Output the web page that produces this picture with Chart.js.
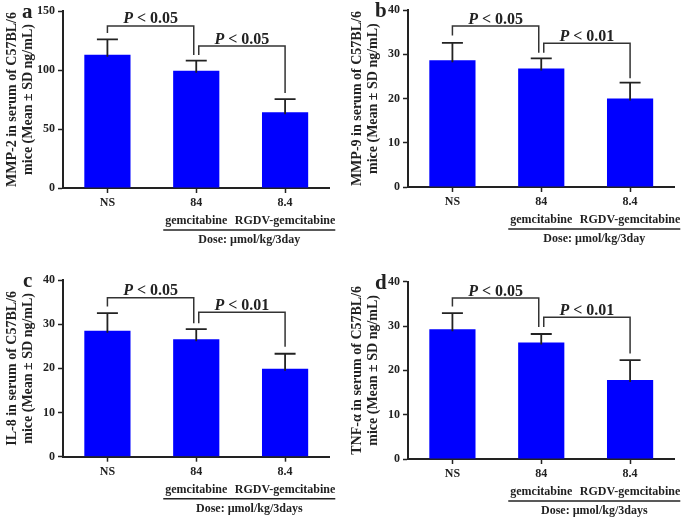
<!DOCTYPE html>
<html>
<head>
<meta charset="utf-8">
<script src="https://cdn.jsdelivr.net/npm/chart.js@4/dist/chart.umd.min.js"></script>
<style>
  html, body { margin: 0; padding: 0; background: #fff; }
  body { position: relative; width: 685px; height: 517px; overflow: hidden; }
  canvas { position: absolute; }
</style>
</head>
<body>
<canvas id="chartA" width="342" height="258" style="left:0;top:0"></canvas>
<canvas id="chartB" width="340" height="258" style="left:345px;top:0"></canvas>
<canvas id="chartC" width="342" height="259" style="left:0;top:258px"></canvas>
<canvas id="chartD" width="340" height="259" style="left:345px;top:258px"></canvas>
<script>
const categories = ['NS', '84', '8.4']
const subLabels = ['', 'gemcitabine', 'RGDV-gemcitabine']

const mmp2Mean = [113, 99.4, 64.2]
const mmp2Sd = [13, 8.5, 11.2]
const mmp9Mean = [28.7, 26.8, 20.0]
const mmp9Sd = [3.9, 2.3, 3.6]
const il8Mean = [28.5, 26.6, 19.9]
const il8Sd = [4.0, 2.3, 3.4]
const tnfMean = [29.3, 26.3, 17.8]
const tnfSd = [3.6, 1.9, 4.5]

// brackets: [from, to, top, left leg end, right leg end, p]
const mmp2Sig = [[0, 1, 137.3, 131.4, 112.7, '0.05'], [1, 2, 120.3, 112.7, 80.5, '0.05']]
const mmp9Sig = [[0, 1, 36.4, 34.3, 30.4, '0.05'], [1, 2, 32.5, 30.4, 24.6, '0.01']]
const il8Sig = [[0, 1, 36.0, 34.0, 30.2, '0.05'], [1, 2, 32.7, 30.2, 24.9, '0.01']]
const tnfSig = [[0, 1, 36.3, 34.4, 29.8, '0.05'], [1, 2, 32.0, 29.8, 23.8, '0.01']]

const FONT = "'Liberation Serif', 'Times New Roman', serif"
const INK = '#222'

const extras = {
  id: 'extras',
  afterDraw(chart, args, opts) {
    const ctx = chart.ctx
    const x = chart.scales.x
    const y = chart.scales.y
    const area = chart.chartArea
    ctx.save()

    // error bars, upper side only
    ctx.strokeStyle = INK
    ctx.lineWidth = 1.8
    opts.mean.forEach((m, i) => {
      const cx = x.getPixelForValue(i)
      const y0 = y.getPixelForValue(m)
      const y1 = y.getPixelForValue(m + opts.sd[i])
      ctx.beginPath()
      ctx.moveTo(cx, y0 + 2)
      ctx.lineTo(cx, y1)
      ctx.moveTo(cx - 10.5, y1)
      ctx.lineTo(cx + 10.5, y1)
      ctx.stroke()
    })

    // significance brackets
    ctx.strokeStyle = '#333'
    ctx.lineWidth = 1.5
    opts.sig.forEach((s, k) => {
      const xl = x.getPixelForValue(s[0]) + (k > 0 ? 2.5 : 0)
      const xr = x.getPixelForValue(s[1]) - (k < opts.sig.length - 1 ? 2.5 : 0)
      const yt = y.getPixelForValue(s[2])
      ctx.beginPath()
      ctx.moveTo(xl, y.getPixelForValue(s[3]))
      ctx.lineTo(xl, yt)
      ctx.lineTo(xr, yt)
      ctx.lineTo(xr, y.getPixelForValue(s[4]))
      ctx.stroke()

      const pFont = 'italic bold 16px ' + FONT
      const rFont = 'bold 16px ' + FONT
      const rest = ' < ' + s[5]
      ctx.font = pFont
      const wp = ctx.measureText('P').width
      ctx.font = rFont
      const wr = ctx.measureText(rest).width
      const start = (xl + xr) / 2 - (wp + wr) / 2
      ctx.fillStyle = INK
      ctx.textAlign = 'left'
      ctx.textBaseline = 'alphabetic'
      ctx.font = pFont
      ctx.fillText('P', start, yt - 2.5)
      ctx.font = rFont
      ctx.fillText(rest, start + wp, yt - 2.5)
    })

    // dose line and caption
    ctx.font = 'bold 12px ' + FONT
    const x1 = x.getPixelForValue(1)
    const x2 = x.getPixelForValue(2)
    const lineL = x1 - ctx.measureText(subLabels[1]).width / 2 - 2
    const lineR = x2 + ctx.measureText(subLabels[2]).width / 2
    const ly = area.bottom + 42
    ctx.strokeStyle = INK
    ctx.lineWidth = 1.5
    ctx.beginPath()
    ctx.moveTo(lineL, ly)
    ctx.lineTo(lineR, ly)
    ctx.stroke()
    ctx.fillStyle = INK
    ctx.textAlign = 'center'
    ctx.textBaseline = 'middle'
    ctx.fillText(opts.dose, (lineL + lineR) / 2, ly + 10)

    // panel letter
    ctx.font = 'bold 21px ' + FONT
    ctx.textAlign = 'left'
    ctx.textBaseline = 'alphabetic'
    ctx.fillText(opts.letter, area.left - opts.letterDx, area.top + 7)
    ctx.restore()
  }
}

const makePanel = (id, cfg) => new Chart(document.getElementById(id), {
  type: 'bar',
  data: {
    labels: categories.map((c, i) => [c, subLabels[i]]),
    datasets: [{
      data: cfg.mean,
      backgroundColor: '#0000ff',
      barPercentage: 0.52,
      categoryPercentage: 1,
    }],
  },
  options: {
    responsive: false,
    animation: false,
    events: [],
    layout: { padding: { top: cfg.top, right: cfg.right, left: 0, bottom: 0 } },
    plugins: {
      legend: { display: false },
      tooltip: { enabled: false },
      extras: {
        mean: cfg.mean,
        sd: cfg.sd,
        sig: cfg.sig,
        dose: cfg.dose,
        letter: cfg.letter,
        letterDx: cfg.letterDx,
      },
    },
    scales: {
      x: {
        grid: { display: true, drawOnChartArea: false, offset: false, color: INK, tickLength: 5, tickWidth: 1.5 },
        border: { color: INK, width: 2 },
        ticks: {
          color: INK,
          font: { family: FONT, weight: 'bold', size: 12, lineHeight: 1.5 },
          padding: 1,
          maxRotation: 0,
          autoSkip: false,
        },
        afterFit: (s) => { s.height = cfg.xHeight },
      },
      y: {
        min: 0,
        max: cfg.max,
        ticks: {
          stepSize: cfg.step,
          color: INK,
          font: { family: FONT, weight: 'bold', size: 12 },
          padding: 3,
        },
        grid: { drawOnChartArea: false, color: INK, tickLength: 5, tickWidth: 1.5 },
        border: { color: INK, width: 2 },
        title: {
          display: true,
          text: [cfg.title, 'mice (Mean ± SD ng/mL)'],
          align: 'center',
          color: INK,
          font: { family: FONT, weight: 'bold', size: 14, lineHeight: 1.15 },
          padding: { top: 4, bottom: 0 },
        },
        afterFit: (s) => { s.width = 63 },
      },
    },
  },
  plugins: [extras],
})

makePanel('chartA', {
  mean: mmp2Mean, sd: mmp2Sd, sig: mmp2Sig, max: 150, step: 50,
  title: 'MMP-2 in serum of C57BL/6', dose: 'Dose: µmol/kg/3day',
  letter: 'a', letterDx: 41, top: 11, right: 12.5, xHeight: 70,
})
makePanel('chartB', {
  mean: mmp9Mean, sd: mmp9Sd, sig: mmp9Sig, max: 40, step: 10,
  title: 'MMP-9 in serum of C57BL/6', dose: 'Dose: µmol/kg/3day',
  letter: 'b', letterDx: 33, top: 10, right: 10.5, xHeight: 71,
})
makePanel('chartC', {
  mean: il8Mean, sd: il8Sd, sig: il8Sig, max: 40, step: 10,
  title: 'IL-8 in serum of C57BL/6', dose: 'Dose: µmol/kg/3days',
  letter: 'c', letterDx: 40, top: 22, right: 12.5, xHeight: 60.3,
})
makePanel('chartD', {
  mean: tnfMean, sd: tnfSd, sig: tnfSig, max: 40, step: 10,
  title: 'TNF-α in serum of C57BL/6', dose: 'Dose: µmol/kg/3days',
  letter: 'd', letterDx: 33, top: 23.7, right: 10.5, xHeight: 58,
})
</script>
</body>
</html>
